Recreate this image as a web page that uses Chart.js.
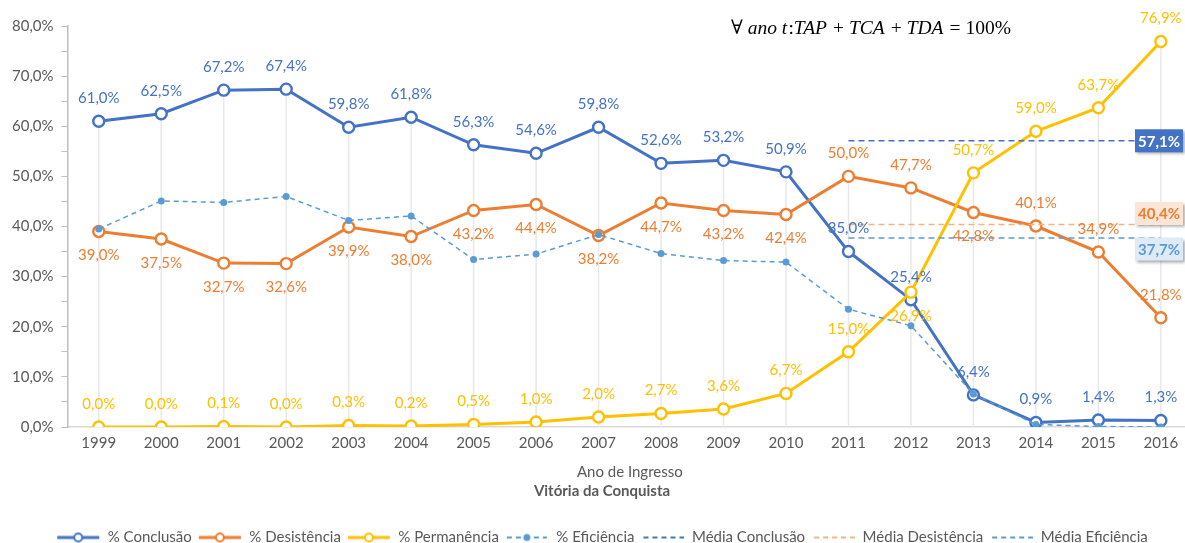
<!DOCTYPE html>
<html>
<head>
<meta charset="utf-8">
<script src="https://cdn.jsdelivr.net/npm/chart.js@4.4.1/dist/chart.umd.min.js"></script>
<style>
  html, body { margin: 0; padding: 0; background: #fff; overflow: hidden; }
  #wrap { width: 1185px; height: 543px; overflow: hidden; }
</style>
</head>
<body>
<div id="wrap"><canvas id="grafico" width="1200" height="555"></canvas></div>
<script>
// dados (Vitória da Conquista)
const anos = ['1999', '2000', '2001', '2002', '2003', '2004', '2005', '2006', '2007',
              '2008', '2009', '2010', '2011', '2012', '2013', '2014', '2015', '2016'];
const conclusao   = [61.0, 62.5, 67.2, 67.4, 59.8, 61.8, 56.3, 54.6, 59.8, 52.6, 53.2, 50.9, 35.0, 25.4, 6.4, 0.9, 1.4, 1.3];
const desistencia = [39.0, 37.5, 32.7, 32.6, 39.9, 38.0, 43.2, 44.4, 38.2, 44.7, 43.2, 42.4, 50.0, 47.7, 42.8, 40.1, 34.9, 21.8];
const permanencia = [0.0, 0.0, 0.1, 0.0, 0.3, 0.2, 0.5, 1.0, 2.0, 2.7, 3.6, 6.7, 15.0, 26.9, 50.7, 59.0, 63.7, 76.9];
const eficiencia  = [39.5, 45.1, 44.8, 46.0, 41.2, 42.1, 33.4, 34.5, 38.4, 34.6, 33.2, 32.9, 23.5, 20.2, 6.6, 0.5, 0.1, 0.0];
const mediaConclusao = 57.1;
const mediaDesistencia = 40.4;
const mediaEficiencia = 37.7;
const inicioMedia = '2011';
const yTicks = [0, 5, 10, 15, 20, 25, 30, 35, 40, 45, 50, 55, 60, 65, 70, 75, 80];

// posição dos rótulos: a = acima, b = abaixo
const posConclusao   = 'aaaaaaaaaaaaaaaaaa'.split('');
const posDesistencia = 'bbbbbbbbbbbbaabaaa'.split('');
const posPermanencia = 'aaaaaaaaaaaaabaaaa'.split('');

const AZUL = '#4472C4', LARANJA = '#ED7D31', AMARELO = '#FFC000', AZUL_CLARO = '#5B9BD5';
const PESSEGO = '#F4B183';
const CINZA = '#595959';
const FONTE = 'Lato, "Open Sans", sans-serif';
const TAM = 15;

const fmt = v => v.toFixed(1).replace('.', ',') + '%';
const serieMedia = m => anos.map(a => (a >= inicioMedia ? m : null));

function amostra(cor, tipo) {
    const c = document.createElement('canvas');
    c.width = 44; c.height = 14;
    const g = c.getContext('2d');
    g.strokeStyle = cor;
    if (tipo === 'linha') {
        g.lineWidth = 3;
        g.beginPath(); g.moveTo(1, 7); g.lineTo(43, 7); g.stroke();
        g.lineWidth = 2; g.fillStyle = '#fff';
        g.beginPath(); g.arc(22, 7, 4, 0, Math.PI * 2); g.fill(); g.stroke();
    } else if (tipo === 'efic') {
        g.lineWidth = 2; g.setLineDash([5, 4]);
        g.beginPath(); g.moveTo(2, 7); g.lineTo(42, 7); g.stroke();
        g.fillStyle = cor;
        g.beginPath(); g.arc(22, 7, 3.5, 0, Math.PI * 2); g.fill();
    } else {
        g.lineWidth = 2; g.setLineDash([5, 4]);
        g.beginPath(); g.moveTo(3, 7); g.lineTo(44, 7); g.stroke();
    }
    return c;
}

function serieLinha(label, data, cor, pos, ordem) {
    return {
        label, data, borderColor: cor, backgroundColor: cor,
        borderWidth: 3, pointRadius: 5.5, pointBorderWidth: 2.4,
        pointBackgroundColor: '#fff', pointBorderColor: cor,
        tension: 0, order: ordem, _tipo: 'linha', _pos: pos
    };
}

const datasets = [
    serieLinha('% Conclusão', conclusao, AZUL, posConclusao, 7),
    serieLinha('% Desistência', desistencia, LARANJA, posDesistencia, 6),
    serieLinha('% Permanência', permanencia, AMARELO, posPermanencia, 5),
    {
        label: '% Eficiência', data: eficiencia, borderColor: AZUL_CLARO, backgroundColor: AZUL_CLARO,
        borderWidth: 1.5, borderDash: [5, 4], pointRadius: 3.5, pointBorderWidth: 0,
        pointBackgroundColor: AZUL_CLARO, order: 4, _tipo: 'efic'
    },
    {
        label: 'Média Conclusão', data: serieMedia(mediaConclusao), borderColor: AZUL,
        borderWidth: 1.5, borderDash: [6, 4], pointRadius: 0, order: 3, _tipo: 'media',
        _caixa: { fundo: AZUL, texto: '#fff', desloc: 0 }
    },
    {
        label: 'Média Desistência', data: serieMedia(mediaDesistencia), borderColor: PESSEGO,
        borderWidth: 1.5, borderDash: [6, 4], pointRadius: 0, order: 2, _tipo: 'media',
        _caixa: { fundo: '#FBE5D6', texto: LARANJA, desloc: -11 }
    },
    {
        label: 'Média Eficiência', data: serieMedia(mediaEficiencia), borderColor: AZUL_CLARO,
        borderWidth: 1.5, borderDash: [6, 4], pointRadius: 0, order: 1, _tipo: 'media',
        _caixa: { fundo: '#DEEBF7', texto: AZUL_CLARO, desloc: 11 }
    }
];

// linhas verticais do ponto mais alto até o eixo
const linhasQueda = {
    id: 'linhasQueda',
    beforeDatasetsDraw(chart) {
        const { ctx, chartArea } = chart;
        const metas = [0, 1, 2].map(i => chart.getDatasetMeta(i));
        ctx.save();
        ctx.strokeStyle = '#E8E8E8';
        ctx.lineWidth = 1.5;
        anos.forEach((a, i) => {
            const topo = Math.min(...metas.map(m => m.data[i].y));
            ctx.beginPath();
            ctx.moveTo(metas[0].data[i].x, topo);
            ctx.lineTo(metas[0].data[i].x, chartArea.bottom);
            ctx.stroke();
        });
        ctx.restore();
    }
};

// rótulos de dados, caixas das médias e equação
const rotulos = {
    id: 'rotulos',
    afterDatasetsDraw(chart) {
        const { ctx } = chart;
        ctx.save();
        ctx.font = TAM + 'px ' + FONTE;
        ctx.textAlign = 'center';
        ctx.textBaseline = 'middle';
        chart.data.datasets.forEach((ds, di) => {
            if (ds._tipo !== 'linha') return;
            const meta = chart.getDatasetMeta(di);
            ctx.fillStyle = ds.borderColor;
            meta.data.forEach((p, i) => {
                const dy = ds._pos[i] === 'a' ? -23 : 24;
                ctx.fillText(fmt(ds.data[i]), p.x, p.y + dy);
            });
        });

        chart.data.datasets.forEach((ds, di) => {
            if (ds._tipo !== 'media') return;
            const meta = chart.getDatasetMeta(di);
            const p = meta.data[meta.data.length - 1];
            const cx = 1159;
            const cy = p.y + ds._caixa.desloc;
            const w = 48, h = 23;
            ctx.save();
            ctx.shadowColor = 'rgba(0,0,0,0.35)';
            ctx.shadowBlur = 3;
            ctx.shadowOffsetX = 2;
            ctx.shadowOffsetY = 2;
            ctx.fillStyle = ds._caixa.fundo;
            ctx.fillRect(cx - w / 2, cy - h / 2, w, h);
            ctx.restore();
            ctx.fillStyle = ds._caixa.texto;
            ctx.font = 'bold ' + TAM + 'px ' + FONTE;
            ctx.fillText(fmt(ds.data[ds.data.length - 1]), cx, cy + 1);
        });

        // ∀ ano t: TAP + TCA + TDA = 100%
        const partes = [
            ['∀ ', false], ['ano t', true], [':', false], ['TAP', true], [' + ', false],
            ['TCA', true], [' + ', false], ['TDA', true], [' = 100%', false]
        ];
        ctx.textAlign = 'left';
        ctx.textBaseline = 'alphabetic';
        ctx.fillStyle = '#000';
        let x = 731;
        partes.forEach(([t, it]) => {
            ctx.font = (it ? 'italic ' : '') + '19.5px "Liberation Serif", "DejaVu Serif", serif';
            ctx.fillText(t, x, 34);
            x += ctx.measureText(t).width + (it ? 1.2 : 0);
        });
        ctx.restore();
    }
};

new Chart(document.getElementById('grafico'), {
    type: 'line',
    data: { labels: anos, datasets },
    options: {
        responsive: false,
        animation: false,
        layout: { padding: { top: 26, left: 4, right: 0, bottom: 0 } },
        scales: {
            x: {
                offset: true,
                grid: { display: false, drawTicks: false },
                border: { display: true, color: '#D9D9D9', width: 1.5 },
                ticks: { color: CINZA, font: { family: FONTE, size: TAM }, padding: 7, maxRotation: 0 },
                title: { display: true, text: 'Ano de Ingresso', color: CINZA, font: { family: FONTE, size: TAM }, padding: { top: 4, bottom: 0 } }
            },
            y: {
                min: 0, max: 80,
                afterBuildTicks: axis => { axis.ticks = yTicks.map(v => ({ value: v })); },
                grid: { drawOnChartArea: false, drawTicks: true, tickLength: 6, color: '#BFBFBF' },
                border: { display: true, color: '#BFBFBF', width: 1.5 },
                ticks: {
                    color: CINZA, font: { family: FONTE, size: TAM }, padding: 8,
                    callback: v => (v % 10 === 0 ? fmt(v) : '')
                }
            }
        },
        plugins: {
            tooltip: { enabled: false },
            title: {
                display: true, position: 'bottom', weight: 500, text: 'Vitória da Conquista',
                color: CINZA, font: { family: FONTE, size: TAM, weight: 'bold' }, padding: { top: 1, bottom: 24 }
            },
            legend: {
                position: 'bottom', weight: 1000,
                labels: {
                    usePointStyle: true, pointStyleWidth: 44, boxHeight: 14,
                    color: CINZA, font: { family: FONTE, size: TAM }, padding: 6,
                    generateLabels: chart => chart.data.datasets.map((ds, i) => ({
                        text: ds.label,
                        pointStyle: amostra(ds.borderColor, ds._tipo),
                        fillStyle: ds.borderColor, strokeStyle: ds.borderColor,
                        lineWidth: 0, hidden: false, datasetIndex: i, fontColor: CINZA
                    }))
                }
            }
        }
    },
    plugins: [linhasQueda, rotulos]
});
</script>
</body>
</html>
